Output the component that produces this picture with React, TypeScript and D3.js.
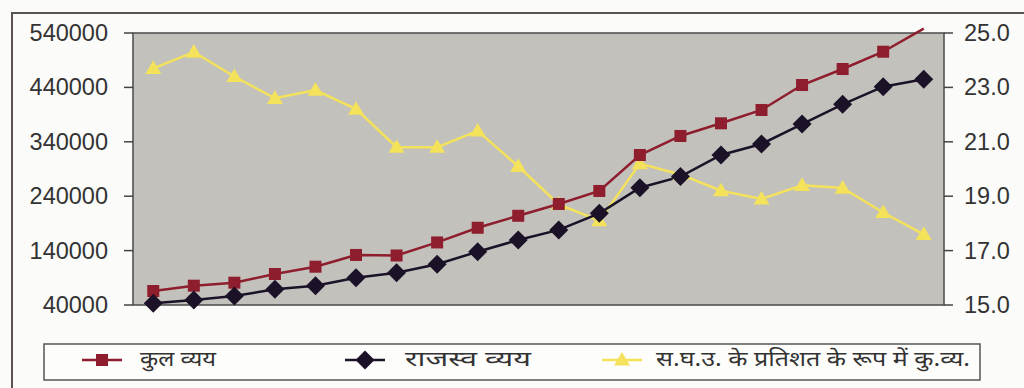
import { useMemo } from "react";
import * as d3 from "d3";

// 20 periods, no x labels shown in the source
const periods = ["1", "2", "3", "4", "5", "6", "7", "8", "9", "10", "11", "12", "13", "14", "15", "16", "17", "18", "19", "20"];

// कुल व्यय (total expenditure)
const totalExp = [65700, 75500, 81000, 97000, 110400, 132000, 131000, 155000, 182000, 204000, 225700, 249600, 315700, 350700, 374000, 398500, 444400, 473800, 505600, 548000];

// राजस्व व्यय (revenue expenditure)
const revenueExp = [43000, 49000, 56500, 69000, 75500, 90200, 99400, 114800, 138000, 159500, 178000, 208500, 255600, 276000, 315700, 336000, 372700, 409000, 441300, 454900];

// स.घ.उ. के प्रतिशत के रूप में कु.व्य. (right axis)
const gdpShare = [23.7, 24.3, 23.4, 22.6, 22.9, 22.2, 20.8, 20.8, 21.4, 20.1, 18.7, 18.1, 20.2, 19.8, 19.2, 18.9, 19.4, 19.3, 18.4, 17.6];

const leftTicks = [40000, 140000, 240000, 340000, 440000, 540000];
const rightTicks = [15, 17, 19, 21, 23, 25];

const legendLabels = ["कुल व्यय", "राजस्व व्यय", "स.घ.उ. के प्रतिशत के रूप में कु.व्य."];

const RED = "#8e1d2d";
const DARK = "#1c1228";
const YELLOW = "#f3e25a";

export default function App() {
    const width = 1024;
    const height = 388;
    const plot = { left: 133, right: 944, top: 33, bottom: 305 };

    const x = useMemo(
        () => d3.scalePoint<string>().domain(periods).range([plot.left, plot.right]).padding(0.5),
        []
    );
    const yLeft = useMemo(
        () => d3.scaleLinear().domain([40000, 540000]).range([plot.bottom, plot.top]),
        []
    );
    const yRight = useMemo(
        () => d3.scaleLinear().domain([15, 25]).range([plot.bottom, plot.top]),
        []
    );

    const lineLeft = d3
        .line<number>()
        .x((_, i) => x(periods[i]) as number)
        .y((d) => yLeft(d));
    const lineRight = d3
        .line<number>()
        .x((_, i) => x(periods[i]) as number)
        .y((d) => yRight(d));

    const fmtRight = d3.format(".1f");
    const font = "'Liberation Sans', Arial, sans-serif";
    const hindiFont = "'Noto Sans Devanagari', 'Noto Sans', 'Lohit Devanagari', sans-serif";

    const square = (cx: number, cy: number, key: any, s = 12) => (
        <rect key={key} x={cx - s / 2} y={cy - s / 2} width={s} height={s} fill={RED} />
    );
    const diamond = (cx: number, cy: number, key: any, r = 9.5) => (
        <path key={key} d={`M${cx},${cy - r}L${cx + r},${cy}L${cx},${cy + r}L${cx - r},${cy}Z`} fill={DARK} />
    );
    const triangle = (cx: number, cy: number, key: any, r = 8) => (
        <path key={key} d={`M${cx},${cy - r}L${cx + r},${cy + r * 0.7}L${cx - r},${cy + r * 0.7}Z`} fill={YELLOW} />
    );

    const legendItems = [
        { x0: 82, tx: 140, len: 76, marker: square, color: RED },
        { x0: 345, tx: 405, len: 126, marker: diamond, color: DARK },
        { x0: 602, tx: 656, len: 314, marker: triangle, color: YELLOW },
    ];

    return (
        <svg
            width={width}
            height={height}
            style={{ position: "absolute", left: 0, top: 0, background: "#fbfbf9" }}
        >
            {/* outer chart frame */}
            <rect x={12} y={13} width={1030} height={400} fill="none" stroke="#5b5256" strokeWidth={2} />

            {/* plot area */}
            <rect
                x={plot.left}
                y={plot.top}
                width={plot.right - plot.left}
                height={plot.bottom - plot.top}
                fill="#c3c1bc"
                stroke="#4a4a4a"
                strokeWidth={1.5}
            />

            {/* left axis */}
            {leftTicks.map((t) => (
                <g key={t}>
                    <line x1={plot.left - 9} x2={plot.left} y1={yLeft(t)} y2={yLeft(t)} stroke="#444" strokeWidth={1.5} />
                    <text
                        x={108}
                        y={yLeft(t)}
                        textAnchor="end"
                        dominantBaseline="central"
                        fontFamily={font}
                        fontSize={23.5}
                        fill="#333"
                    >
                        {t}
                    </text>
                </g>
            ))}

            {/* right axis */}
            {rightTicks.map((t) => (
                <g key={t}>
                    <line x1={plot.right} x2={plot.right + 9} y1={yRight(t)} y2={yRight(t)} stroke="#444" strokeWidth={1.5} />
                    <text
                        x={964}
                        y={yRight(t)}
                        dominantBaseline="central"
                        fontFamily={font}
                        fontSize={23.5}
                        fill="#333"
                    >
                        {fmtRight(t)}
                    </text>
                </g>
            ))}

            {/* series lines */}
            <path d={lineRight(gdpShare) || undefined} fill="none" stroke={YELLOW} strokeWidth={2.5} />
            <path d={lineLeft(totalExp) || undefined} fill="none" stroke={RED} strokeWidth={2.5} />
            <path d={lineLeft(revenueExp) || undefined} fill="none" stroke={DARK} strokeWidth={2.5} />

            {/* markers (hidden when outside the value axis) */}
            {gdpShare.map((d, i) => triangle(x(periods[i]) as number, yRight(d), `t${i}`))}
            {totalExp.map((d, i) =>
                d <= 540000 ? square(x(periods[i]) as number, yLeft(d), `s${i}`) : null
            )}
            {revenueExp.map((d, i) => diamond(x(periods[i]) as number, yLeft(d), `d${i}`))}

            {/* legend */}
            <rect x={44} y={344} width={936} height={36} fill="#fdfdfb" stroke="#555" strokeWidth={1.5} />
            {legendItems.map((it, i) => (
                <g key={i}>
                    <line x1={it.x0} x2={it.x0 + 40} y1={360} y2={360} stroke={it.color} strokeWidth={2.5} />
                    {it.marker(it.x0 + 20, 360, `lm${i}`)}
                    <text
                        x={it.tx}
                        y={361}
                        dominantBaseline="central"
                        fontFamily={hindiFont}
                        fontSize={21}
                        fill="#333"
                        textLength={it.len}
                        lengthAdjust="spacingAndGlyphs"
                    >
                        {legendLabels[i]}
                    </text>
                </g>
            ))}
        </svg>
    );
}
